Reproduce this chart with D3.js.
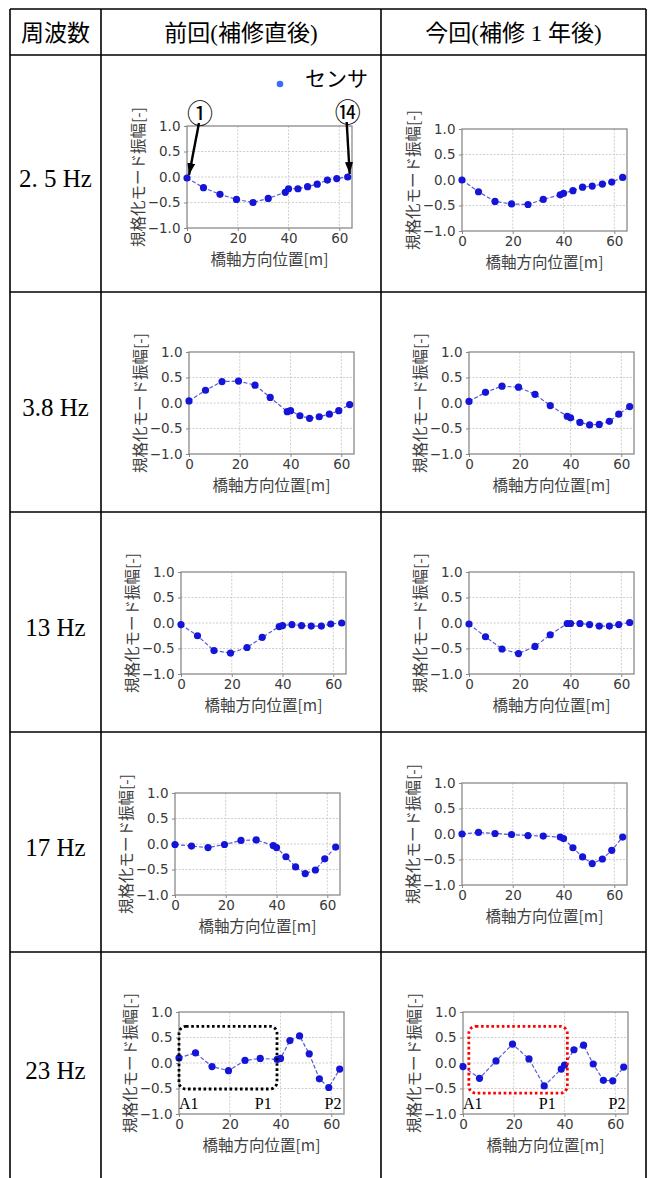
<!DOCTYPE html>
<html>
<head>
<meta charset="utf-8">
<script src="https://cdn.jsdelivr.net/npm/d3@7"></script>
<style>
  body { margin: 0; background: #fff; }
  svg { display: block; }
  .tick text { font-family: "DejaVu Sans", sans-serif; fill: #3a3a3a; }
</style>
</head>
<body>
<div id="table"></div>
<script>
// ---- data ----
var headers = ["周波数", "前回(補修直後)", "今回(補修 1 年後)"];
var freqs = ["2. 5 Hz", "3.8 Hz", "13 Hz", "17 Hz", "23 Hz"];

// sensor positions along the bridge axis [m] (sensors 1..14)
var sensorPos = [0, 6.5, 13, 19.5, 26, 32, 38.7, 40, 43.7, 47.5, 51.3, 55.3, 59, 63.3];

// normalized mode amplitude, previous (just after repair)
var prev25 = [-0.02, -0.21, -0.34, -0.44, -0.50, -0.42, -0.30, -0.23, -0.23, -0.19, -0.14, -0.06, -0.03, 0.00];
var prev38 = [0.04, 0.25, 0.42, 0.43, 0.35, 0.11, -0.17, -0.15, -0.25, -0.30, -0.27, -0.22, -0.15, -0.03];
var prev13 = [-0.03, -0.25, -0.54, -0.59, -0.48, -0.28, -0.07, -0.05, -0.03, -0.05, -0.06, -0.06, -0.02, 0.00];
var prev17 = [-0.01, -0.04, -0.07, -0.01, 0.07, 0.08, -0.03, -0.07, -0.25, -0.45, -0.58, -0.51, -0.29, -0.06];
var prev23 = [0.10, 0.20, -0.07, -0.15, 0.05, 0.09, 0.07, 0.09, 0.44, 0.53, 0.18, -0.31, -0.48, -0.12];

// normalized mode amplitude, this time (1 year after repair)
var curr25 = [0.00, -0.23, -0.42, -0.47, -0.48, -0.38, -0.29, -0.26, -0.21, -0.14, -0.12, -0.08, -0.04, 0.05];
var curr38 = [0.03, 0.21, 0.33, 0.31, 0.17, -0.05, -0.26, -0.29, -0.38, -0.43, -0.42, -0.36, -0.22, -0.07];
var curr13 = [-0.02, -0.27, -0.51, -0.60, -0.46, -0.23, -0.01, -0.01, -0.01, -0.03, -0.06, -0.06, -0.03, 0.01];
var curr17 = [0.00, 0.03, 0.01, -0.01, -0.03, -0.04, -0.06, -0.09, -0.27, -0.45, -0.58, -0.49, -0.32, -0.06];
var curr23 = [-0.07, -0.30, 0.04, 0.37, 0.08, -0.45, -0.12, -0.04, 0.26, 0.35, -0.02, -0.34, -0.35, -0.08];

var prevSeries = [prev25, prev38, prev13, prev17, prev23];
var currSeries = [curr25, curr38, curr13, curr17, curr23];

var xTicks = [0, 20, 40, 60];
var yTicks = [-1.0, -0.5, 0.0, 0.5, 1.0];
var xLabel = "橋軸方向位置[m]";
var yLabel = "規格化モード振幅[-]";

// annotation boxes in data units (23 Hz row)
var boxPrev = [0, 38.6, -0.51, 0.72];
var boxCurr = [2.3, 41.1, -0.59, 0.72];
var spanLabels = ["A1", "P1", "P2"];
var spanLabelX = [0, 36.5, 64];

// ---- layout ----
var W = 650, H = 1178;
var colX = [10, 101, 381, 646];
var rowY = [9, 55, 292, 512, 732, 952, H];
var plotW = 165, plotH = 102;
var leftPos = [[187, 126], [189, 352], [181, 572], [175, 793], [179, 1012]];
var rightPos = [[462, 129], [469, 352], [469, 572], [462, 783], [463, 1012]];

var svg = d3.select("#table").append("svg")
    .attr("width", W).attr("height", H);

svg.append("rect").attr("width", W).attr("height", H).attr("fill", "#fff");

// table lines
svg.selectAll("line.hrow")
    .data(rowY.slice(0, 6))
  .enter().append("line")
    .attr("class", "hrow")
    .attr("x1", colX[0]).attr("x2", colX[3])
    .attr("y1", function(d) { return d; }).attr("y2", function(d) { return d; })
    .attr("stroke", "#000").attr("stroke-width", 1.7);

svg.selectAll("line.vcol")
    .data(colX)
  .enter().append("line")
    .attr("class", "vcol")
    .attr("x1", function(d) { return d; }).attr("x2", function(d) { return d; })
    .attr("y1", rowY[0]).attr("y2", H)
    .attr("stroke", "#000").attr("stroke-width", 1.6);

// header texts
svg.selectAll("text.head")
    .data(headers)
  .enter().append("text")
    .attr("class", "head")
    .attr("x", function(d, i) { return (colX[i] + colX[i + 1]) / 2; })
    .attr("y", 33)
    .attr("text-anchor", "middle")
    .attr("dominant-baseline", "central")
    .style("font-family", "'Liberation Serif', 'Noto Sans CJK JP', serif")
    .style("font-size", "23px")
    .text(function(d) { return d; });

// frequency labels
svg.selectAll("text.freq")
    .data(freqs)
  .enter().append("text")
    .attr("class", "freq")
    .attr("x", (colX[0] + colX[1]) / 2)
    .attr("y", function(d, i) { return (rowY[i + 1] + rowY[i + 2]) / 2 + 5; })
    .attr("text-anchor", "middle")
    .attr("dominant-baseline", "central")
    .style("font-family", "'Liberation Serif', serif")
    .style("font-size", "25px")
    .text(function(d) { return d; });

var x = d3.scaleLinear().domain([0, 65]).range([0, plotW]);
var y = d3.scaleLinear().domain([-1, 1]).range([plotH, 0]);

function drawChart(pos, vals) {
    var g = svg.append("g").attr("transform", "translate(" + pos[0] + "," + pos[1] + ")");

    // grid
    g.selectAll("line.gx").data(xTicks.slice(1)).enter().append("line")
        .attr("x1", x).attr("x2", x).attr("y1", 0).attr("y2", plotH)
        .attr("stroke", "#c8c8c8").attr("stroke-width", 0.9).attr("stroke-dasharray", "2,1.5");
    g.selectAll("line.gy").data(yTicks.slice(1, 4)).enter().append("line")
        .attr("y1", y).attr("y2", y).attr("x1", 0).attr("x2", plotW)
        .attr("stroke", "#c8c8c8").attr("stroke-width", 0.9).attr("stroke-dasharray", "2,1.5");

    // axes
    var ax = g.append("g").attr("transform", "translate(0," + plotH + ")")
        .call(d3.axisBottom(x).tickValues(xTicks).tickSize(3).tickPadding(2));
    var ay = g.append("g")
        .call(d3.axisLeft(y).tickValues(yTicks).tickSize(3).tickPadding(3.5).tickFormat(d3.format(".1f")));
    [ax, ay].forEach(function(a) {
        a.select(".domain").remove();
        a.selectAll(".tick line").attr("stroke", "#888");
        a.selectAll(".tick text").style("font-size", "13.5px");
    });

    // frame
    g.append("rect").attr("width", plotW).attr("height", plotH)
        .attr("fill", "none").attr("stroke", "#8a8a8a").attr("stroke-width", 1.3);

    // axis labels
    g.append("text")
        .attr("x", plotW / 2).attr("y", plotH + 37)
        .attr("text-anchor", "middle")
        .style("font-family", "'Noto Sans CJK JP', sans-serif")
        .style("font-size", "15.5px").style("fill", "#3f3f3f")
        .text(xLabel);
    g.append("text")
        .attr("transform", "translate(-43," + (plotH / 2) + ") rotate(-90)")
        .attr("text-anchor", "middle")
        .style("font-family", "'Noto Sans CJK JP', sans-serif")
        .style("font-size", "15.5px").style("fill", "#3f3f3f")
        .text(yLabel);

    // line + points
    var pts = sensorPos.map(function(p, i) { return [p, vals[i]]; });
    g.append("path")
        .datum(pts)
        .attr("fill", "none")
        .attr("stroke", "#5a5ad8")
        .attr("stroke-width", 1.2)
        .attr("stroke-dasharray", "4,2")
        .attr("d", d3.line().x(function(d) { return x(d[0]); }).y(function(d) { return y(d[1]); }));
    g.selectAll("circle.pt").data(pts).enter().append("circle")
        .attr("class", "pt")
        .attr("cx", function(d) { return x(d[0]); })
        .attr("cy", function(d) { return y(d[1]); })
        .attr("r", 3.6)
        .attr("fill", "#1515d8");
    return g;
}

var leftCharts = prevSeries.map(function(vals, i) { return drawChart(leftPos[i], vals); });
var rightCharts = currSeries.map(function(vals, i) { return drawChart(rightPos[i], vals); });

// arrow marker
svg.append("defs").append("marker")
    .attr("id", "arr").attr("viewBox", "0 0 12 8")
    .attr("refX", 12).attr("refY", 4)
    .attr("markerWidth", 5).attr("markerHeight", 3.4)
    .attr("markerUnits", "strokeWidth")
    .attr("orient", "auto")
  .append("path").attr("d", "M0,0L12,4L0,8z").attr("fill", "#000");

// sensor legend + numbered arrows (first chart)
var g0 = leftCharts[0];
g0.append("circle").attr("cx", 93).attr("cy", -42).attr("r", 3.3).attr("fill", "#3b6cf5");
g0.append("text").attr("x", 118).attr("y", -40)
    .style("font-family", "'Noto Sans CJK JP', serif").style("font-size", "21px")
    .text("センサ");

var callouts = [{ idx: 0, label: "①", dx: 13 }, { idx: 13, label: "⑭", dx: 0 }];
callouts.forEach(function(c) {
    var px = x(sensorPos[c.idx]), py = y(prev25[c.idx]);
    g0.append("text").attr("x", px + c.dx).attr("y", py - 67)
        .attr("text-anchor", "middle").attr("dominant-baseline", "central")
        .style("font-family", "'Noto Sans CJK JP', serif").style("font-size", "26px")
        .text(c.label);
    g0.append("line")
        .attr("x1", px + c.dx - 1).attr("y1", py - 55)
        .attr("x2", px + 2).attr("y2", py - 3)
        .attr("stroke", "#000").attr("stroke-width", 2.4)
        .attr("marker-end", "url(#arr)");
});

// span boxes + support labels (23 Hz row)
function annotate(g, box, color) {
    g.append("rect")
        .attr("x", x(box[0])).attr("y", y(box[3]))
        .attr("width", x(box[1]) - x(box[0])).attr("height", y(box[2]) - y(box[3]))
        .attr("rx", 7).attr("ry", 7)
        .attr("fill", "none").attr("stroke", color)
        .attr("stroke-width", 2.8).attr("stroke-dasharray", "2.6,2.6");
    g.selectAll("text.span").data(spanLabels).enter().append("text")
        .attr("class", "span")
        .attr("x", function(d, i) { return x(spanLabelX[i]); })
        .attr("y", y(-0.9))
        .attr("text-anchor", function(d, i) { return i === 0 ? "start" : "end"; })
        .style("font-family", "'Liberation Serif', serif").style("font-size", "16px")
        .text(function(d) { return d; });
}
annotate(leftCharts[4], boxPrev, "#000");
annotate(rightCharts[4], boxCurr, "#ff0000");
</script>
</body>
</html>
